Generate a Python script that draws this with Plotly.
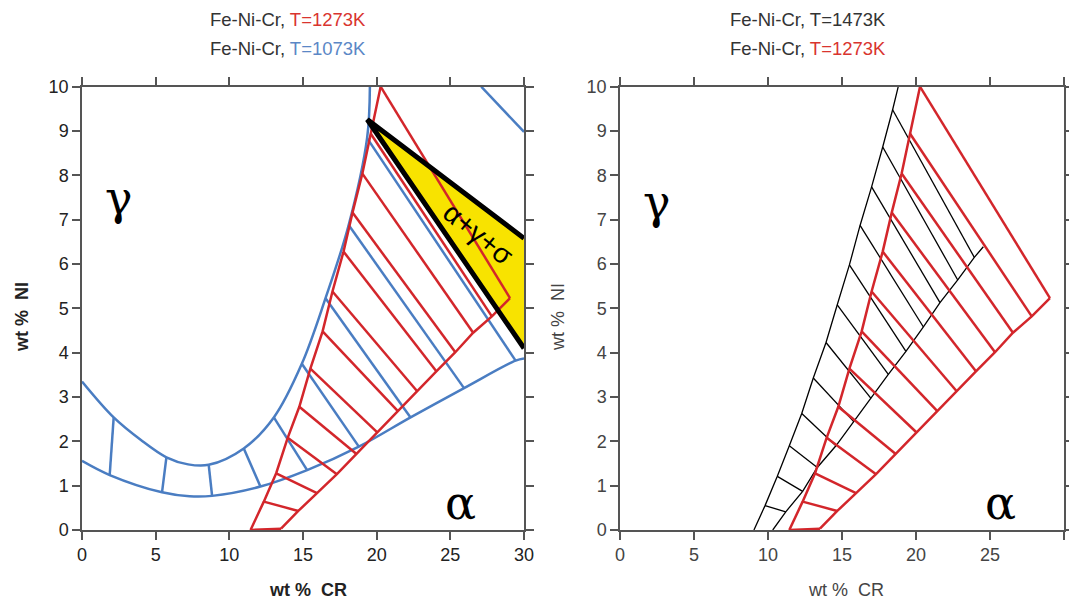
import plotly.graph_objects as go

# ---------------- data (wt % Cr, wt % Ni) ----------------
# 1273 K (red) - shared by both panels
red_gamma_cr = [20.27, 19.6, 19.03, 18.36, 17.75, 17.0, 16.33, 15.5, 14.75, 13.96, 13.18, 12.34, 11.44]
red_gamma_ni = [10.0, 8.94, 8.04, 7.16, 6.28, 5.38, 4.48, 3.64, 2.78, 2.08, 1.28, 0.64, 0.0]
red_alpha_cr = [29.05, 27.82, 26.55, 25.34, 24.05, 22.75, 21.44, 20.04, 18.65, 17.3, 15.95, 14.68, 13.51]
red_alpha_ni = [5.23, 4.82, 4.45, 4.01, 3.58, 3.13, 2.68, 2.2, 1.71, 1.26, 0.83, 0.43, 0.03]

# 1073 K (blue) - left panel
blue_upper_cr = [0, 2.15, 4.0, 5.73, 7.2, 8.6, 10.98, 13.02, 14.92, 16.53, 18.1, 19.35, 19.54]
blue_upper_ni = [3.35, 2.54, 2.03, 1.64, 1.48, 1.47, 1.84, 2.54, 3.75, 5.23, 6.88, 8.84, 10.0]
blue_lower_cr = [0, 1.88, 5.43, 7.3, 8.83, 12.11, 15.28, 18.79, 22.3, 25.93, 29.43, 30]
blue_lower_ni = [1.56, 1.24, 0.85, 0.76, 0.77, 0.98, 1.35, 1.88, 2.54, 3.2, 3.82, 3.87]
blue_tie_g_cr = [2.15, 5.73, 8.6, 10.98, 13.02, 14.92, 16.53, 18.1, 19.35]
blue_tie_g_ni = [2.54, 1.64, 1.47, 1.84, 2.54, 3.75, 5.23, 6.88, 8.84]
blue_tie_a_cr = [1.88, 5.43, 8.83, 12.11, 15.28, 18.79, 22.3, 25.93, 29.43]
blue_tie_a_ni = [1.24, 0.85, 0.77, 0.98, 1.35, 1.88, 2.54, 3.2, 3.82]
blue_sigma_cr = [27.1, 30]
blue_sigma_ni = [10.0, 8.98]

# three-phase triangle alpha+gamma+sigma
tri_cr = [19.36, 30, 30]
tri_ni = [9.26, 6.58, 4.1]

# 1473 K (black) - right panel
black_gamma_cr = [18.8, 18.42, 17.75, 17.0, 16.22, 15.5, 14.68, 13.92, 13.06, 12.28, 11.44, 10.63, 9.8, 9.05]
black_gamma_ni = [10.0, 9.48, 8.64, 7.74, 6.87, 5.98, 5.08, 4.23, 3.43, 2.63, 1.9, 1.21, 0.55, 0.0]
black_tie_a_cr = [23.94, 22.82, 21.62, 20.5, 19.32, 18.13, 16.96, 15.81, 14.59, 13.33, 12.34, 11.2]
black_tie_a_ni = [6.15, 5.64, 5.13, 4.58, 4.03, 3.51, 2.97, 2.44, 1.9, 1.41, 0.87, 0.41]
black_alpha_end_cr = [24.55, 10.32]
black_alpha_end_ni = [6.39, 0.0]

x_ticks = [0, 5, 10, 15, 20, 25, 30]
y_ticks = list(range(0, 11))

# ---------------- styles ----------------
RED = "#d3262b"
BLUE = "#4a7dc2"
YELLOW = "#f8e300"
SANS = "Liberation Sans, Arial, sans-serif"
SERIF = "DejaVu Serif, serif"


def ties(x0, y0, x1, y1):
    xs, ys = [], []
    for a, b, c, d in zip(x0, y0, x1, y1):
        xs += [a, c, None]
        ys += [b, d, None]
    return xs, ys


fig = go.Figure()


def line(x, y, color, width, xa, ya, shape="linear"):
    fig.add_trace(go.Scatter(x=x, y=y, mode="lines", xaxis=xa, yaxis=ya,
                             line=dict(color=color, width=width, shape=shape),
                             hoverinfo="skip", showlegend=False))


# ---- left panel ----
fig.add_trace(go.Scatter(x=tri_cr + [tri_cr[0]], y=tri_ni + [tri_ni[0]], fill="toself",
                         fillcolor=YELLOW, mode="none", xaxis="x", yaxis="y",
                         hoverinfo="skip", showlegend=False))
line(blue_upper_cr, blue_upper_ni, BLUE, 2.5, "x", "y", "spline")
line(blue_lower_cr, blue_lower_ni, BLUE, 2.5, "x", "y", "spline")
bx, by = ties(blue_tie_g_cr, blue_tie_g_ni, blue_tie_a_cr, blue_tie_a_ni)
line(bx, by, BLUE, 2.5, "x", "y")
line(blue_sigma_cr, blue_sigma_ni, BLUE, 2.5, "x", "y")


def red_panel(xa, ya):
    line(red_gamma_cr, red_gamma_ni, RED, 2.5, xa, ya)
    line(red_alpha_cr, red_alpha_ni, RED, 2.5, xa, ya)
    rx, ry = ties(red_gamma_cr, red_gamma_ni, red_alpha_cr, red_alpha_ni)
    line(rx, ry, RED, 2.5, xa, ya)


red_panel("x", "y")
line([tri_cr[1], tri_cr[0], tri_cr[2]], [tri_ni[1], tri_ni[0], tri_ni[2]], "black", 5, "x", "y")

# ---- right panel ----
line(black_gamma_cr, black_gamma_ni, "black", 1.3, "x2", "y2")
line([black_alpha_end_cr[0]] + black_tie_a_cr + [black_alpha_end_cr[1]],
     [black_alpha_end_ni[0]] + black_tie_a_ni + [black_alpha_end_ni[1]], "black", 1.3, "x2", "y2")
kx, ky = ties(black_gamma_cr[1:13], black_gamma_ni[1:13], black_tie_a_cr, black_tie_a_ni)
line(kx, ky, "black", 1.3, "x2", "y2")
red_panel("x2", "y2")

# ---------------- axes ----------------
OFF = 8  # page body margin
W, H = 1077 - 2 * OFF, 609 - 2 * OFF


def PX(px):
    return (px - OFF) / W


def PY(py):
    return 1 - (py - OFF) / H


ydom = [PY(530), PY(86.7)]
common = dict(showline=True, mirror="ticks", linecolor="#555", linewidth=1.5,
              ticks="outside", ticklen=8, tickwidth=1.5, tickcolor="#555",
              showgrid=False, zeroline=False, fixedrange=True, automargin=False)
fig.update_layout(
    width=W, height=H, margin=dict(l=0, r=0, t=0, b=0, autoexpand=False),
    paper_bgcolor="white", plot_bgcolor="white",
    xaxis=dict(domain=[PX(82), PX(524)], anchor="y", range=[0, 30], tickvals=x_ticks,
               tickfont=dict(family=SANS, size=18, color="#222"), **common),
    yaxis=dict(domain=ydom, anchor="x", range=[0, 10], tickvals=y_ticks,
               tickfont=dict(family=SANS, size=18, color="#222"), **common),
    xaxis2=dict(domain=[PX(620), PX(1064)], anchor="y2", range=[0, 30], tickvals=x_ticks,
                tickfont=dict(family=SANS, size=18, color="#444"), **common),
    yaxis2=dict(domain=ydom, anchor="x2", range=[0, 10], tickvals=y_ticks,
                tickfont=dict(family=SANS, size=18, color="#444"), **common),
)

ann = []


def ptext(text, xp, yp, size=18, color="#333", angle=0, family=SANS):
    ann.append(dict(text=text, x=PX(xp), y=PY(yp), xref="paper", yref="paper",
                    showarrow=False, xanchor="center", yanchor="middle", textangle=angle,
                    font=dict(family=family, size=size, color=color)))


ptext("Fe-Ni-Cr, <span style='color:#d9342f'>T=1273K</span>", 288, 20, size=18.5)
ptext("Fe-Ni-Cr, <span style='color:#5b87c6'>T=1073K</span>", 288, 48, size=18.5)
ptext("Fe-Ni-Cr, T=1473K", 808, 20, size=18.5)
ptext("Fe-Ni-Cr, <span style='color:#d9342f'>T=1273K</span>", 808, 48, size=18.5)
ptext("<b>wt %\u00a0 CR</b>", 308, 590, size=18, color="#222")
ptext("<b>wt %\u00a0 NI</b>", 22, 317, size=18, color="#222", angle=-90)
ptext("wt %\u00a0 CR", 846, 590, size=18, color="#444")
ptext("wt %\u00a0 NI", 558, 317, size=18, color="#444", angle=-90)


def dtext(text, x, y, xa, ya, size=46, family=SERIF, angle=0):
    ann.append(dict(text=text, x=x, y=y, xref=xa, yref=ya, showarrow=False,
                    xanchor="center", yanchor="middle", textangle=angle,
                    font=dict(family=family, size=size, color="black")))


dtext("γ", 2.5, 7.5, "x", "y")
dtext("α", 25.7, 0.6, "x", "y")
dtext("γ", 2.5, 7.4, "x2", "y2")
dtext("α", 25.7, 0.6, "x2", "y2")
dtext("α+γ+σ", 26.85, 6.68, "x", "y", size=28, family=SANS, angle=39)

fig.update_layout(annotations=ann)
fig.write_html("out.html")
